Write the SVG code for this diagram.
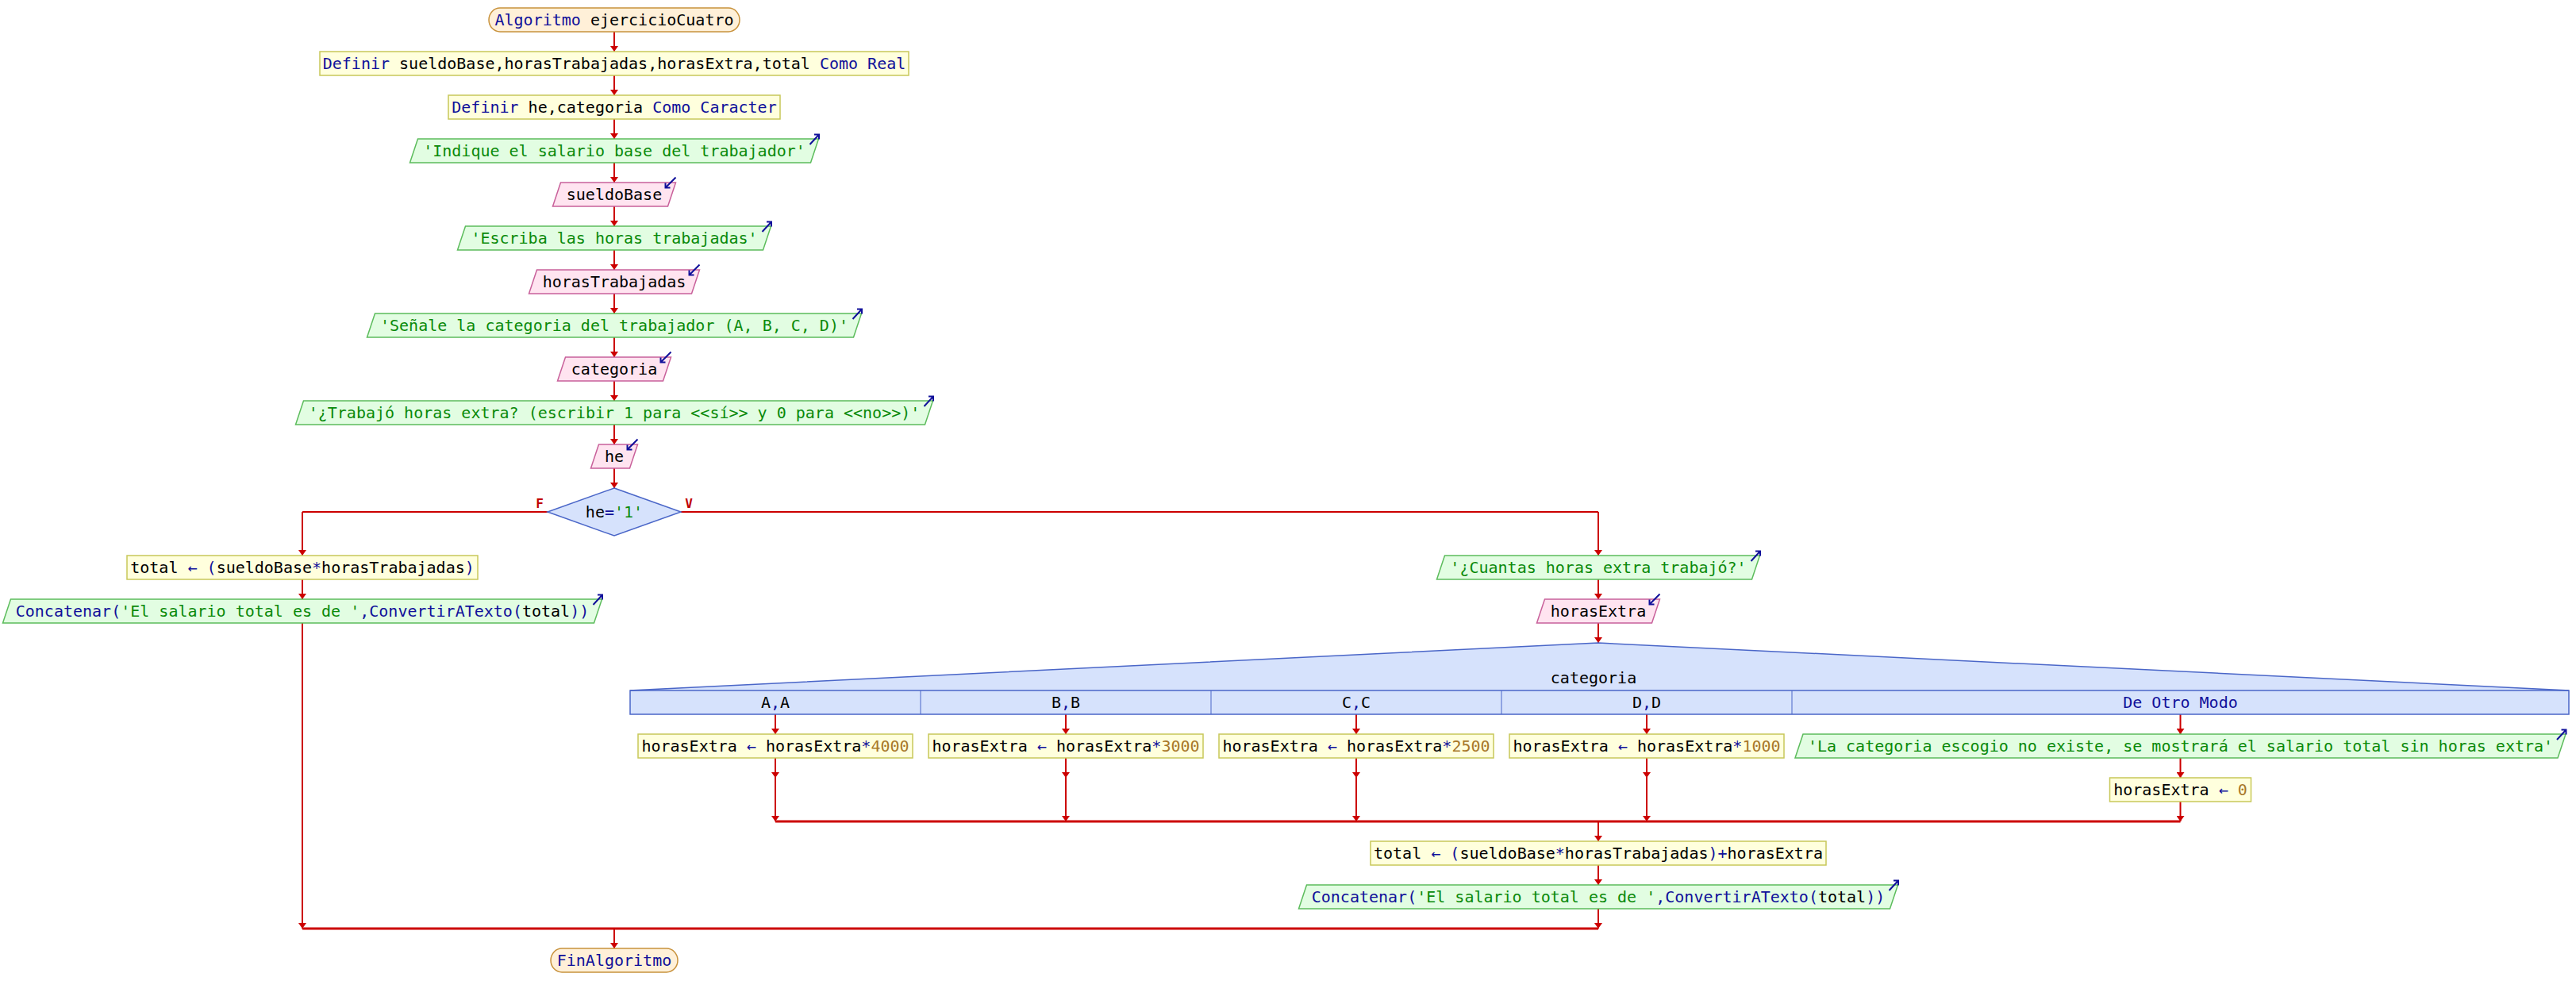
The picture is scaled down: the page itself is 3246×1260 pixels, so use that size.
<svg xmlns="http://www.w3.org/2000/svg" width="3246" height="1260" viewBox="0 0 3246 1260">
  <style>
    text { font-family: "DejaVu Sans Mono", "Liberation Mono", monospace; font-size: 20px; fill: #000000; text-anchor: middle; white-space: pre; }
    .k { fill: #10109a; }
    .s { fill: #0a8a0a; }
    .n { fill: #a8782a; }
    .lbl { font-weight: bold; font-size: 16px; fill: #c00000; }
    .term { fill: #fff0d8; stroke: #c8923c; stroke-width: 1.5; }
    .proc { fill: #ffffdd; stroke: #c8c85a; stroke-width: 1.5; }
    .out { fill: #e2fde2; stroke: #5cbc5c; stroke-width: 1.5; }
    .in { fill: #ffe4f0; stroke: #c8609a; stroke-width: 1.5; }
    .dec { fill: #d6e2fc; stroke: #4a66c8; stroke-width: 1.5; }
    .ico { fill: none; stroke: #10109a; stroke-width: 2; }
    .flow line, .flow polyline { stroke: #cc0000; stroke-width: 2; fill: none; }
    .flow .arr { marker-end: url(#head); }
    .flow .merge { stroke-width: 3; }
  </style>
  <defs>
    <marker id="head" markerUnits="userSpaceOnUse" markerWidth="7" markerHeight="10" viewBox="0 0 7 10" refX="7" refY="5" orient="auto">
      <path d="M0,0 L7,5 L0,10 z" fill="#cc0000"/>
    </marker>
    <!-- small "write" arrow placed at a parallelogram's top-right corner -->
    <path id="icoOut" class="ico" d="M-11,7 L0.5,-5.5 M-5.5,-5.5 L0.5,-5.5 L0.5,0.5"/>
    <!-- small "read" arrow placed at a parallelogram's top-right corner -->
    <path id="icoIn" class="ico" d="M0,-6.5 L-13,6.5 M-13,0.5 L-13,6.5 L-7,6.5"/>
  </defs>

  <g class="flow" id="connectors">
    <line class="arr" x1="774" y1="40" x2="774" y2="65"/>
    <line class="arr" x1="774" y1="95" x2="774" y2="120"/>
    <line class="arr" x1="774" y1="150" x2="774" y2="175"/>
    <line class="arr" x1="774" y1="205" x2="774" y2="230"/>
    <line class="arr" x1="774" y1="260" x2="774" y2="285"/>
    <line class="arr" x1="774" y1="315" x2="774" y2="340"/>
    <line class="arr" x1="774" y1="370" x2="774" y2="395"/>
    <line class="arr" x1="774" y1="425" x2="774" y2="450"/>
    <line class="arr" x1="774" y1="480" x2="774" y2="505"/>
    <line class="arr" x1="774" y1="535" x2="774" y2="560"/>
    <line class="arr" x1="774" y1="590" x2="774" y2="615"/>
    <!-- if branches -->
    <line x1="381" y1="645" x2="690" y2="645"/>
    <line x1="858" y1="645" x2="2014" y2="645"/>
    <line class="arr" x1="381" y1="645" x2="381" y2="700"/>
    <line class="arr" x1="381" y1="730" x2="381" y2="755"/>
    <line class="arr" x1="381" y1="785" x2="381" y2="1170"/>
    <line class="arr" x1="2014" y1="645" x2="2014" y2="700"/>
    <line class="arr" x1="2014" y1="730" x2="2014" y2="755"/>
    <line class="arr" x1="2014" y1="785" x2="2014" y2="810"/>
    <!-- switch columns -->
    <line class="arr" x1="977" y1="900" x2="977" y2="925"/>
    <line class="arr" x1="977" y1="955" x2="977" y2="980"/>
    <line class="arr" x1="977" y1="980" x2="977" y2="1035"/>
    <line class="arr" x1="1343" y1="900" x2="1343" y2="925"/>
    <line class="arr" x1="1343" y1="955" x2="1343" y2="980"/>
    <line class="arr" x1="1343" y1="980" x2="1343" y2="1035"/>
    <line class="arr" x1="1709" y1="900" x2="1709" y2="925"/>
    <line class="arr" x1="1709" y1="955" x2="1709" y2="980"/>
    <line class="arr" x1="1709" y1="980" x2="1709" y2="1035"/>
    <line class="arr" x1="2075" y1="900" x2="2075" y2="925"/>
    <line class="arr" x1="2075" y1="955" x2="2075" y2="980"/>
    <line class="arr" x1="2075" y1="980" x2="2075" y2="1035"/>
    <line class="arr" x1="2747.5" y1="900" x2="2747.5" y2="925"/>
    <line class="arr" x1="2747.5" y1="955" x2="2747.5" y2="980"/>
    <line class="arr" x1="2747.5" y1="1010" x2="2747.5" y2="1035"/>
    <line class="merge" x1="977" y1="1035" x2="2747.5" y2="1035"/>
    <line class="arr" x1="2014" y1="1035" x2="2014" y2="1060"/>
    <line class="arr" x1="2014" y1="1090" x2="2014" y2="1115"/>
    <line class="arr" x1="2014" y1="1145" x2="2014" y2="1170"/>
    <line class="merge" x1="381" y1="1170" x2="2014" y2="1170"/>
    <line class="arr" x1="774" y1="1170" x2="774" y2="1195"/>
  </g>

  <g id="inicio">
    <rect class="term" x="616" y="10" width="316" height="30" rx="14" ry="15"/>
    <text x="774" y="32"><tspan class="k">Algoritmo</tspan> ejercicioCuatro</text>
  </g>
  <g id="definir1">
    <rect class="proc" x="403" y="65" width="742" height="30"/>
    <text x="774" y="87"><tspan class="k">Definir</tspan> sueldoBase,horasTrabajadas,horasExtra,total <tspan class="k">Como Real</tspan></text>
  </g>
  <g id="definir2">
    <rect class="proc" x="565" y="120" width="418" height="30"/>
    <text x="774" y="142"><tspan class="k">Definir</tspan> he,categoria <tspan class="k">Como Caracter</tspan></text>
  </g>
  <g id="escribir1">
    <polygon class="out" points="526.5,175 1031.5,175 1021.5,205 516.5,205"/>
    <use href="#icoOut" x="1031.5" y="175"/>
    <text x="774" y="197" class="s">'Indique el salario base del trabajador'</text>
  </g>
  <g id="leer1">
    <polygon class="in" points="706.5,230 851.5,230 841.5,260 696.5,260"/>
    <use href="#icoIn" x="851.5" y="230"/>
    <text x="774" y="252">sueldoBase</text>
  </g>
  <g id="escribir2">
    <polygon class="out" points="586.5,285 971.5,285 961.5,315 576.5,315"/>
    <use href="#icoOut" x="971.5" y="285"/>
    <text x="774" y="307" class="s">'Escriba las horas trabajadas'</text>
  </g>
  <g id="leer2">
    <polygon class="in" points="676.5,340 881.5,340 871.5,370 666.5,370"/>
    <use href="#icoIn" x="881.5" y="340"/>
    <text x="774" y="362">horasTrabajadas</text>
  </g>
  <g id="escribir3">
    <polygon class="out" points="472.5,395 1085.5,395 1075.5,425 462.5,425"/>
    <use href="#icoOut" x="1085.5" y="395"/>
    <text x="774" y="417" class="s">'Señale la categoria del trabajador (A, B, C, D)'</text>
  </g>
  <g id="leer3">
    <polygon class="in" points="712.5,450 845.5,450 835.5,480 702.5,480"/>
    <use href="#icoIn" x="845.5" y="450"/>
    <text x="774" y="472">categoria</text>
  </g>
  <g id="escribir4">
    <polygon class="out" points="382.5,505 1175.5,505 1165.5,535 372.5,535"/>
    <use href="#icoOut" x="1175.5" y="505"/>
    <text x="774" y="527" class="s">'¿Trabajó horas extra? (escribir 1 para &lt;&lt;sí&gt;&gt; y 0 para &lt;&lt;no&gt;&gt;)'</text>
  </g>
  <g id="leer4">
    <polygon class="in" points="754.5,560 803.5,560 793.5,590 744.5,590"/>
    <use href="#icoIn" x="803.5" y="560"/>
    <text x="774" y="582">he</text>
  </g>
  <g id="si">
    <polygon class="dec" points="774,615 858,645 774,675 690,645"/>
    <text x="774" y="652">he<tspan class="k">=</tspan><tspan class="s">'1'</tspan></text>
    <text class="lbl" x="680" y="640">F</text>
    <text class="lbl" x="868" y="640">V</text>
  </g>
  <g id="asignar-total1">
    <rect class="proc" x="160" y="700" width="442" height="30"/>
    <text x="381" y="722">total <tspan class="k">←</tspan> <tspan class="k">(</tspan>sueldoBase<tspan class="k">*</tspan>horasTrabajadas<tspan class="k">)</tspan></text>
  </g>
  <g id="escribir-total1">
    <polygon class="out" points="13.5,755 758.5,755 748.5,785 3.5,785"/>
    <use href="#icoOut" x="758.5" y="755"/>
    <text x="381" y="777"><tspan class="k">Concatenar(</tspan><tspan class="s">'El salario total es de '</tspan><tspan class="k">,ConvertirATexto(</tspan>total<tspan class="k">))</tspan></text>
  </g>
  <g id="escribir5">
    <polygon class="out" points="1820.5,700 2217.5,700 2207.5,730 1810.5,730"/>
    <use href="#icoOut" x="2217.5" y="700"/>
    <text x="2014" y="722" class="s">'¿Cuantas horas extra trabajó?'</text>
  </g>
  <g id="leer5">
    <polygon class="in" points="1946.5,755 2091.5,755 2081.5,785 1936.5,785"/>
    <use href="#icoIn" x="2091.5" y="755"/>
    <text x="2014" y="777">horasExtra</text>
  </g>
  <g id="segun">
    <polygon class="dec" points="794,900 794,870 2014,810 3237,870 3237,900"/>
    <line x1="794" y1="870" x2="3237" y2="870" stroke="#4a66c8" stroke-width="1.5"/>
    <line x1="1160" y1="870" x2="1160" y2="900" stroke="#4a66c8" stroke-width="1"/>
    <line x1="1526" y1="870" x2="1526" y2="900" stroke="#4a66c8" stroke-width="1"/>
    <line x1="1892" y1="870" x2="1892" y2="900" stroke="#4a66c8" stroke-width="1"/>
    <line x1="2258" y1="870" x2="2258" y2="900" stroke="#4a66c8" stroke-width="1"/>
    <text x="2008" y="861">categoria</text>
    <text x="977" y="892">A<tspan class="k">,</tspan>A</text>
    <text x="1343" y="892">B<tspan class="k">,</tspan>B</text>
    <text x="1709" y="892">C<tspan class="k">,</tspan>C</text>
    <text x="2075" y="892">D<tspan class="k">,</tspan>D</text>
    <text x="2747.5" y="892" class="k">De Otro Modo</text>
  </g>
  <g id="caso-a">
    <rect class="proc" x="804" y="925" width="346" height="30"/>
    <text x="977" y="947">horasExtra <tspan class="k">←</tspan> horasExtra<tspan class="k">*</tspan><tspan class="n">4000</tspan></text>
  </g>
  <g id="caso-b">
    <rect class="proc" x="1170" y="925" width="346" height="30"/>
    <text x="1343" y="947">horasExtra <tspan class="k">←</tspan> horasExtra<tspan class="k">*</tspan><tspan class="n">3000</tspan></text>
  </g>
  <g id="caso-c">
    <rect class="proc" x="1536" y="925" width="346" height="30"/>
    <text x="1709" y="947">horasExtra <tspan class="k">←</tspan> horasExtra<tspan class="k">*</tspan><tspan class="n">2500</tspan></text>
  </g>
  <g id="caso-d">
    <rect class="proc" x="1902" y="925" width="346" height="30"/>
    <text x="2075" y="947">horasExtra <tspan class="k">←</tspan> horasExtra<tspan class="k">*</tspan><tspan class="n">1000</tspan></text>
  </g>
  <g id="otro-modo-escribir">
    <polygon class="out" points="2272,925 3233,925 3223,955 2262,955"/>
    <use href="#icoOut" x="3233" y="925"/>
    <text x="2747.5" y="947" class="s">'La categoria escogio no existe, se mostrará el salario total sin horas extra'</text>
  </g>
  <g id="otro-modo-asignar">
    <rect class="proc" x="2658.5" y="980" width="178" height="30"/>
    <text x="2747.5" y="1002">horasExtra <tspan class="k">←</tspan> <tspan class="n">0</tspan></text>
  </g>
  <g id="asignar-total2">
    <rect class="proc" x="1727" y="1060" width="574" height="30"/>
    <text x="2014" y="1082">total <tspan class="k">←</tspan> <tspan class="k">(</tspan>sueldoBase<tspan class="k">*</tspan>horasTrabajadas<tspan class="k">)+</tspan>horasExtra</text>
  </g>
  <g id="escribir-total2">
    <polygon class="out" points="1646.5,1115 2391.5,1115 2381.5,1145 1636.5,1145"/>
    <use href="#icoOut" x="2391.5" y="1115"/>
    <text x="2014" y="1137"><tspan class="k">Concatenar(</tspan><tspan class="s">'El salario total es de '</tspan><tspan class="k">,ConvertirATexto(</tspan>total<tspan class="k">))</tspan></text>
  </g>
  <g id="fin">
    <rect class="term" x="694" y="1195" width="160" height="30" rx="14" ry="15"/>
    <text x="774" y="1217" class="k">FinAlgoritmo</text>
  </g>
</svg>
